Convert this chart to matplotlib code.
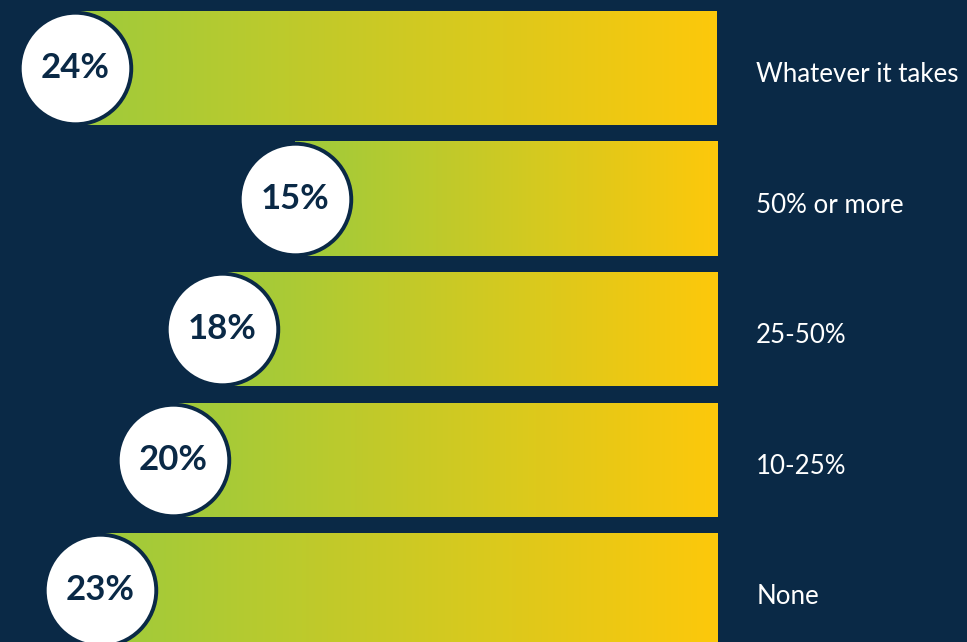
import numpy as np
import matplotlib.pyplot as plt
from matplotlib.colors import LinearSegmentedColormap

categories = ['Whatever it takes', '50% or more', '25-50%', '10-25%', 'None']
values = [24, 15, 18, 20, 23]

bg = '#0a2946'
cmap = LinearSegmentedColormap.from_list('bar_grad', ['#9ecb3c', '#fdc80b'])
gradient = np.linspace(0, 1, 256).reshape(1, -1)

base = -2.3          # right end of every bar
bar_h = 0.874

fig = plt.figure(figsize=(9.67, 6.42), dpi=100, facecolor=bg)
ax = fig.add_axes([0, 0, 1, 1])
ax.set_facecolor(bg)

y = np.arange(len(values))
bars = ax.barh(y, [v - base for v in values], left=base, height=bar_h,
               facecolor='none', edgecolor='none')

# fill each bar with a left-to-right green -> yellow gradient
for bar, v, yi in zip(bars, values, y):
    im = ax.imshow(gradient, cmap=cmap, aspect='auto', interpolation='bicubic',
                   extent=[v, base, yi + bar_h / 2, yi - bar_h / 2], zorder=1)
    im.set_clip_path(bar)

# white value badges at the bar ends
ax.scatter(values, y, s=6450, facecolor='white', edgecolor=bg,
           linewidth=2.8, zorder=3)
for v, yi in zip(values, y):
    ax.text(v, yi, f'{v}%', ha='center', va='center', fontsize=25,
            fontweight='bold', family='Lato', color=bg, zorder=4)

for label, yi in zip(categories, y):
    ax.text(-3.9, yi + 0.05, label, ha='left', va='center', fontsize=18.6,
            family='Lato', color='white')

ax.set_xlim(27.09, -12.54)
ax.set_ylim(4.398, -0.521)
ax.axis('off')

fig.savefig('out.png', dpi=100, facecolor=bg)
